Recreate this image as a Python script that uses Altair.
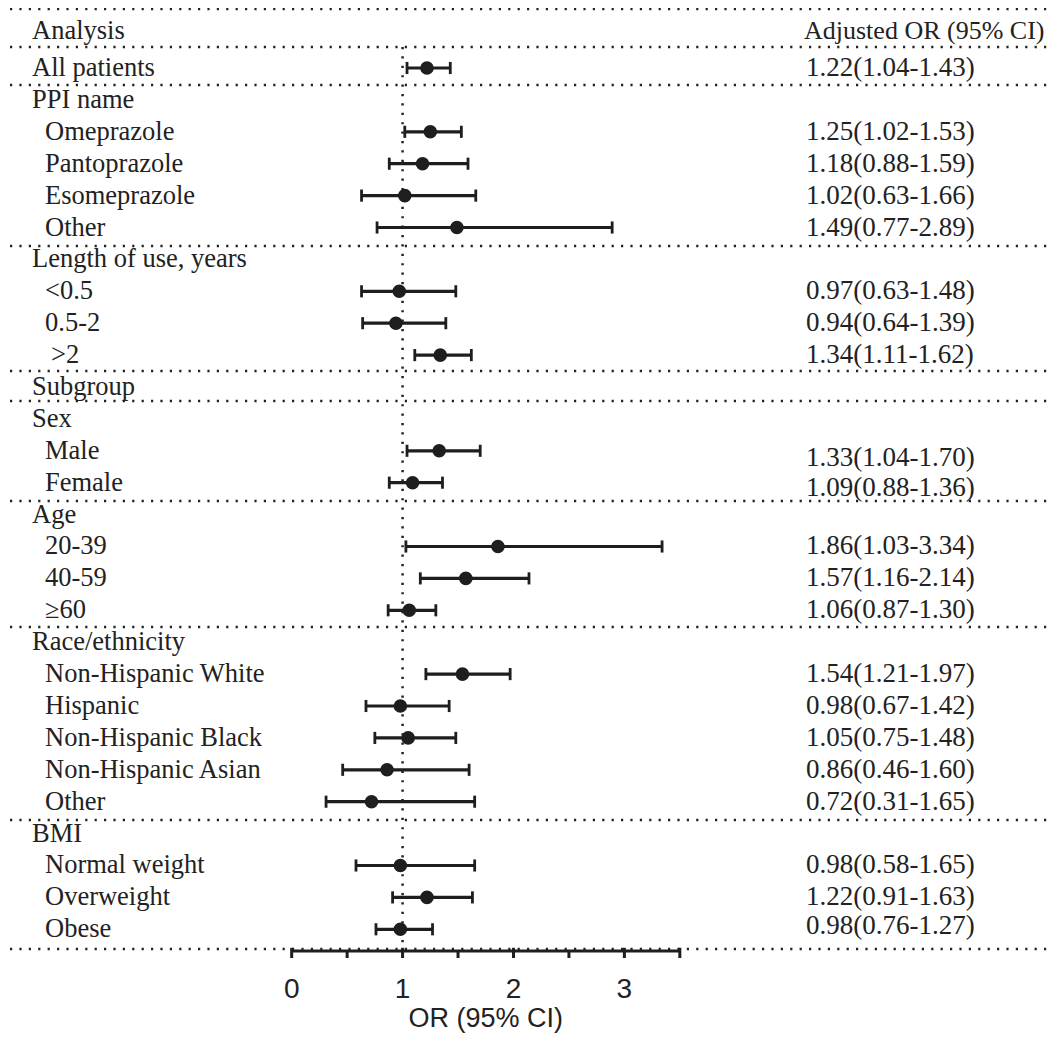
import altair as alt
import pandas as pd

# ---------------- data ----------------
labels = [
    "Analysis", "All patients", "PPI name", "Omeprazole", "Pantoprazole",
    "Esomeprazole", "Other", "Length of use, years", "<0.5", "0.5-2",
    ">2", "Subgroup", "Sex", "Male", "Female", "Age", "20-39", "40-59",
    "\u226560", "Race/ethnicity", "Non-Hispanic White", "Hispanic",
    "Non-Hispanic Black", "Non-Hispanic Asian", "Other", "BMI",
    "Normal weight", "Overweight", "Obese",
]
header_labels = ["Analysis", "All patients", "PPI name", "Length of use, years",
                 "Subgroup", "Sex", "Age", "Race/ethnicity", "BMI"]
or_vals = [None, 1.22, None, 1.25, 1.18, 1.02, 1.49, None, 0.97, 0.94, 1.34,
           None, None, 1.33, 1.09, None, 1.86, 1.57, 1.06, None, 1.54, 0.98,
           1.05, 0.86, 0.72, None, 0.98, 1.22, 0.98]
lo_vals = [None, 1.04, None, 1.02, 0.88, 0.63, 0.77, None, 0.63, 0.64, 1.11,
           None, None, 1.04, 0.88, None, 1.03, 1.16, 0.87, None, 1.21, 0.67,
           0.75, 0.46, 0.31, None, 0.58, 0.91, 0.76]
hi_vals = [None, 1.43, None, 1.53, 1.59, 1.66, 2.89, None, 1.48, 1.39, 1.62,
           None, None, 1.70, 1.36, None, 3.34, 2.14, 1.30, None, 1.97, 1.42,
           1.48, 1.60, 1.65, None, 1.65, 1.63, 1.27]
col_right_title = "Adjusted OR (95% CI)"
axis_major = [0, 1, 2, 3]
axis_minor = [0.5, 1.5, 2.5]
axis_min, axis_max = 0, 3.5
ref_value = 1
x_title = "OR (95% CI)"

rows = list(range(len(labels)))
ci_text = []
for o, l, h in zip(or_vals, lo_vals, hi_vals):
    ci_text.append("" if o is None else f"{o:.2f}({l:.2f}-{h:.2f})")

df = pd.DataFrame({
    "row": rows, "label": labels, "or": or_vals, "lo": lo_vals, "hi": hi_vals,
    "ci": ci_text,
    "level": ["header" if lab in header_labels and i not in (6, 24) else "item"
              for i, lab in enumerate(labels)],
})
df.loc[0, "ci"] = col_right_title

# ---------------- layout ----------------
INK = "#1e1e1e"
SERIF = "Liberation Serif"
SANS = "Liberation Sans"
W, H = 1043, 1028
xs = alt.Scale(domain=[-2.558, 6.847], nice=False, zero=False)
ys = alt.Scale(domain=[-0.881, 31.345], nice=False, zero=False, reverse=True)

def X(f):
    return alt.X(f, scale=xs, axis=None)

def Y(f):
    return alt.Y(f, scale=ys, axis=None)

dot_style = dict(strokeDash=[2.2, 7.2], strokeWidth=2.5, color="#222222")

sep_rows = [-0.85, 0.34, 1.53, 6.58, 10.5, 11.44, 14.57, 18.52, 24.57, 28.62]
sep = alt.Chart(pd.DataFrame({"y": sep_rows})).mark_rule(**dot_style).encode(
    x=alt.value(2), x2=alt.value(W), y=Y("y:Q"))

vref = alt.Chart(pd.DataFrame({"x": [ref_value], "y": [0.34], "y2": [28.5]})).mark_rule(
    **dot_style).encode(x=X("x:Q"), y=Y("y:Q"), y2="y2:Q")

base = alt.Chart(df)
valid = base.transform_filter("isValid(datum.or)")

bars = valid.mark_rule(strokeWidth=3.2, color=INK).encode(
    x=X("lo:Q"), x2="hi:Q", y=Y("row:Q"))

caps = valid.transform_fold(["lo", "hi"], as_=["end", "val"]).transform_calculate(
    yt="datum.row - 0.19", yb="datum.row + 0.19"
).mark_rule(strokeWidth=2.8, color=INK).encode(
    x=X("val:Q"), y=Y("yt:Q"), y2="yb:Q")

pts = valid.mark_circle(size=185, opacity=1, color=INK).encode(
    x=X("or:Q"), y=Y("row:Q"))

left_txt = dict(font=SERIF, fontSize=26.5, color="#222222", baseline="middle", align="left")
right_txt = dict(font=SERIF, fontSize=27, color="#222222", baseline="middle", align="left")

left_hdr = base.transform_filter("datum.level == 'header' && datum.row > 0").mark_text(
    **left_txt).encode(x=alt.value(24), y=Y("row:Q"), text="label:N")
left_hdr0 = base.transform_filter("datum.row == 0").mark_text(
    dy=-5, **left_txt).encode(x=alt.value(24), y=Y("row:Q"), text="label:N")
left_item = base.transform_filter("datum.level == 'item' && datum.label != '>2'").mark_text(
    **left_txt).encode(x=alt.value(37), y=Y("row:Q"), text="label:N")
left_item_gt = base.transform_filter("datum.label == '>2'").mark_text(
    dx=6, **left_txt).encode(x=alt.value(37), y=Y("row:Q"), text="label:N")

right_hdr = base.transform_filter("datum.row == 0").mark_text(
    dy=-5, font=SERIF, fontSize=26, color="#222222", baseline="middle", align="left").encode(
    x=alt.value(796), y=Y("row:Q"), text="ci:N")
right_main = valid.transform_filter(
    "datum.label != 'Male' && datum.label != 'Female' && datum.label != 'Obese'").mark_text(
    **right_txt).encode(x=alt.value(798), y=Y("row:Q"), text="ci:N")
right_male = valid.transform_filter("datum.label == 'Male'").mark_text(
    dy=7, **right_txt).encode(x=alt.value(798), y=Y("row:Q"), text="ci:N")
right_female = valid.transform_filter("datum.label == 'Female'").mark_text(
    dy=5, **right_txt).encode(x=alt.value(798), y=Y("row:Q"), text="ci:N")
right_obese = valid.transform_filter("datum.label == 'Obese'").mark_text(
    dy=-3, **right_txt).encode(x=alt.value(798), y=Y("row:Q"), text="ci:N")

# axis drawn from tick arrays
axis_line = alt.Chart(pd.DataFrame({"x": [axis_min], "x2": [axis_max], "y": [28.68]})).mark_rule(
    strokeWidth=3, color=INK).encode(x=X("x:Q"), x2="x2:Q", y=Y("y:Q"))
major_df = pd.DataFrame({"v": axis_major + [axis_max]})
major_ticks = alt.Chart(major_df).transform_calculate(yt="28.58", yb="28.9").mark_rule(
    strokeWidth=3, color=INK).encode(x=X("v:Q"), y=Y("yt:Q"), y2="yb:Q")
minor_ticks = alt.Chart(pd.DataFrame({"v": axis_minor})).transform_calculate(
    yt="28.7", yb="28.9").mark_rule(strokeWidth=3, color=INK).encode(
    x=X("v:Q"), y=Y("yt:Q"), y2="yb:Q")
tick_labels = alt.Chart(pd.DataFrame({"v": axis_major})).transform_calculate(
    y="29.9", t="format(datum.v, 'd')").mark_text(
    font=SANS, fontSize=28, color="#222222", baseline="middle", align="center").encode(
    x=X("v:Q"), y=Y("y:Q"), text="t:N")
title = alt.Chart(pd.DataFrame({"x": [(axis_min + axis_max) / 2], "y": [30.82], "t": [x_title]})).mark_text(
    font=SANS, fontSize=27, color="#222222", baseline="middle", align="center").encode(
    x=X("x:Q"), y=Y("y:Q"), text="t:N")

chart = alt.layer(
    sep, vref, bars, caps, pts,
    left_hdr, left_hdr0, left_item, left_item_gt,
    right_hdr, right_main, right_male, right_female, right_obese,
    axis_line, major_ticks, minor_ticks, tick_labels, title,
).properties(
    width=W, height=H, padding=0,
    autosize=alt.AutoSizeParams(type="none"),
).configure_view(stroke=None)

chart.save("out.html", embed_options={"renderer": "svg", "actions": False})
